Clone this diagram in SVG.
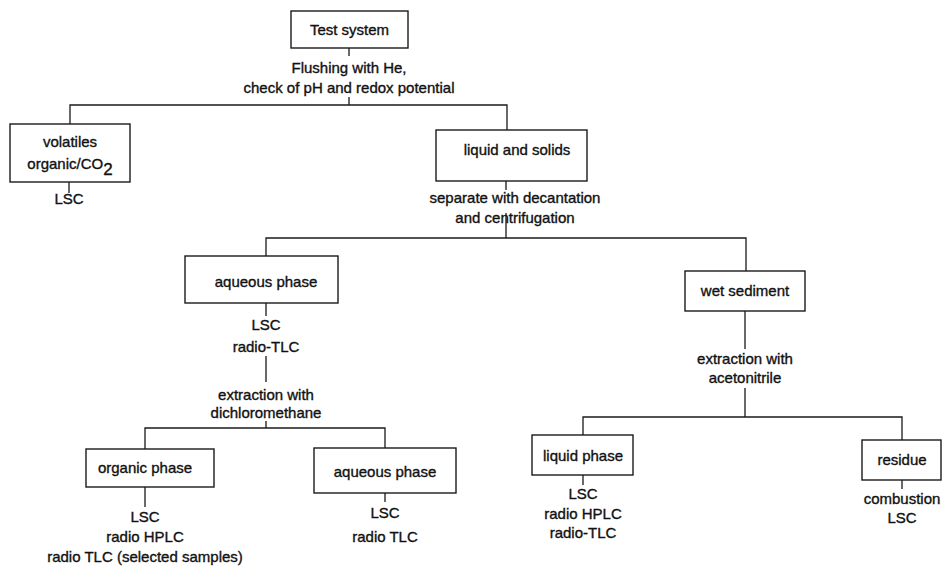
<svg xmlns="http://www.w3.org/2000/svg" width="943" height="570" viewBox="0 0 943 570">
  <style>
    .box { fill: #ffffff; stroke: #1a1a1a; stroke-width: 1.4; }
    .link { fill: none; stroke: #1a1a1a; stroke-width: 1.3; }
    text { font-family: "Liberation Sans", Arial, sans-serif; font-size: 15px; fill: #111111; stroke: #111111; stroke-width: 0.35; text-anchor: middle; }
    .sub { font-size: 17px; }
  </style>
  <rect width="943" height="570" fill="#ffffff"/>

  <!-- tree connectors -->
  <g id="connectors">
    <path class="link" d="M349,48 V56 M349,97 V105"/>
    <path class="link" d="M70,124 V105 H507 V130"/>
    <path class="link" d="M69,182 V193"/>
    <path class="link" d="M506,181 V190 M506,213 V238"/>
    <path class="link" d="M266,257 V238 H746 V271"/>
    <path class="link" d="M266,303 V316 M266,356 V382 M266,421 V428"/>
    <path class="link" d="M145,449 V428 H385 V448"/>
    <path class="link" d="M145,487 V507"/>
    <path class="link" d="M385,493 V502"/>
    <path class="link" d="M745,311 V349 M745,388 V417"/>
    <path class="link" d="M583,435 V417 H902 V440"/>
    <path class="link" d="M583,475 V485"/>
    <path class="link" d="M902,480 V489"/>
  </g>

  <!-- step labels between levels -->
  <g id="step-flushing">
    <text x="349" y="73">Flushing with He,</text>
    <text x="349" y="93">check of pH and redox potential</text>
  </g>
  <g id="step-separate">
    <text x="515" y="203">separate with decantation</text>
    <text x="515" y="223">and centrifugation</text>
  </g>
  <g id="step-dcm">
    <text x="266" y="400">extraction with</text>
    <text x="266" y="418">dichloromethane</text>
  </g>
  <g id="step-acn">
    <text x="745" y="364">extraction with</text>
    <text x="745" y="383">acetonitrile</text>
  </g>

  <g id="test-system">
    <rect class="box" x="291" y="11" width="117" height="37"/>
    <text x="349.5" y="35">Test system</text>
  </g>

  <g id="volatiles">
    <rect class="box" x="10" y="124" width="120" height="58"/>
    <text x="70" y="147">volatiles</text>
    <text x="70" y="169">organic/CO<tspan class="sub" dy="6">2</tspan></text>
    <text x="69" y="204">LSC</text>
  </g>

  <g id="liquid-solids">
    <rect class="box" x="436" y="130" width="151" height="51"/>
    <text x="517" y="155">liquid and solids</text>
  </g>

  <g id="aqueous-phase">
    <rect class="box" x="185" y="256" width="153" height="47"/>
    <text x="266" y="287">aqueous phase</text>
    <text x="266" y="330">LSC</text>
    <text x="266" y="352">radio-TLC</text>
  </g>

  <g id="organic-phase">
    <rect class="box" x="86" y="449" width="128" height="38"/>
    <text x="145" y="473">organic phase</text>
    <text x="145" y="522">LSC</text>
    <text x="145" y="542">radio HPLC</text>
    <text x="145" y="562">radio TLC (selected samples)</text>
  </g>

  <g id="aqueous-phase-2">
    <rect class="box" x="314" y="448" width="142" height="45"/>
    <text x="385" y="477">aqueous phase</text>
    <text x="385" y="518">LSC</text>
    <text x="385" y="542">radio TLC</text>
  </g>

  <g id="wet-sediment">
    <rect class="box" x="685" y="271" width="120" height="40"/>
    <text x="745" y="296">wet sediment</text>
  </g>

  <g id="liquid-phase">
    <rect class="box" x="532" y="435" width="101" height="40"/>
    <text x="583" y="461">liquid phase</text>
    <text x="583" y="499">LSC</text>
    <text x="583" y="519">radio HPLC</text>
    <text x="583" y="538">radio-TLC</text>
  </g>

  <g id="residue">
    <rect class="box" x="862" y="440" width="79" height="40"/>
    <text x="902" y="465">residue</text>
    <text x="902" y="504">combustion</text>
    <text x="902" y="523">LSC</text>
  </g>
</svg>
